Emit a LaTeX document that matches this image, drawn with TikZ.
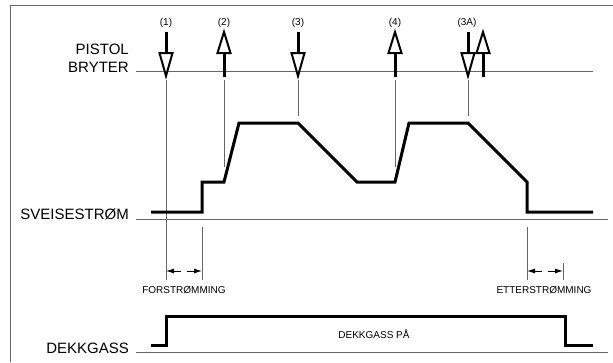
\documentclass[tikz,border=0pt]{standalone}
\usepackage{fontspec}
\setmainfont{Liberation Sans}
\usetikzlibrary{arrows.meta}

\begin{document}
\begin{tikzpicture}[
  x=1pt, y=-1pt,
  >={Latex[length=8pt,width=5pt]},
  sig/.style={line width=3pt, line join=miter},
  guide/.style={draw=black!60, line width=0.7pt},
  shaft/.style={line width=3pt},
  head/.style={draw, fill=white, line width=2pt, line join=miter},
  big/.style={font=\fontsize{15}{18}\selectfont, inner sep=0pt},
  small/.style={font=\fontsize{10}{12}\selectfont, inner sep=0pt},
  dim/.style={line width=0.9pt, ->}
]
\useasboundingbox (0,0) rectangle (613,362);
\draw[guide] (10.7,362) -- (10.7,5) -- (613,5);

% signal names
\node[big, anchor=base east] (pistol) at (129,54) {PISTOL};
\node[big, anchor=base east] (bryter) at (129,72) {BRYTER};
\node[big, anchor=base east] (sveis) at (129,219) {SVEISESTRØM};
\node[big, anchor=base east] (gass) at (129,353) {DEKKGASS};

% base lines
\draw[guide] (136,71) -- (593,71);
\draw[guide] (136,219) -- (608,219);
\draw[guide] (136,352) -- (608,352);

% trigger events
\node[small, anchor=base] (ev1) at (166,25) {(1)};
\node[small, anchor=base] (ev2) at (224,25) {(2)};
\node[small, anchor=base] (ev3) at (298,25) {(3)};
\node[small, anchor=base] (ev4) at (395,25) {(4)};
\node[small, anchor=base] (ev3a) at (467,25) {(3A)};
\foreach \x in {166,298,468} {
  \draw[shaft] (\x,32) -- (\x,54);
  \draw[head] (\x-6.5,53) -- (\x+6.5,53) -- (\x,76) -- cycle;
}
\foreach \x in {224,395,483} {
  \draw[shaft] (\x,52) -- (\x,77);
  \draw[head] (\x-6.5,53) -- (\x+6.5,53) -- (\x,32) -- cycle;
}

% guide lines
\draw[guide] (166,80) -- (166,280);
\draw[guide] (224,80) -- (224,167);
\draw[guide] (298,80) -- (298,116);
\draw[guide] (395,80) -- (395,167);
\draw[guide] (468,80) -- (468,116);
\draw[guide] (202,227) -- (202,280);
\draw[guide] (527,227) -- (527,280);
\draw[guide] (563,263) -- (563,280);

% welding current
\draw[sig] (151,212) -- (202,212) -- (202,182) -- (224,182) -- (239,123)
  -- (298,123) -- (357,182) -- (395,182) -- (409,123) -- (468,123)
  -- (527,182) -- (527,212) -- (593,212);

% pre and post flow
\coordinate (forL) at (166,271);
\coordinate (forR) at (202,271);
\coordinate (etL) at (527,271);
\coordinate (etR) at (563,271);
\draw[dim] (181,271) -- (forL);
\draw[dim] (187,271) -- (forR);
\draw[dim] (542,271) -- (etL);
\draw[dim] (548,271) -- (etR);
\node[small, anchor=base] (forst) at (184,293) {FORSTRØMMING};
\node[small, anchor=base] (etter) at (544,293) {ETTERSTRØMMING};

% shielding gas
\draw[sig] (151,345) -- (166,345) -- (166,316) -- (565,316) -- (565,345) -- (593,345);
\node[small, anchor=base] (gasspa) at (374,338) {DEKKGASS PÅ};
\end{tikzpicture}
\end{document}
